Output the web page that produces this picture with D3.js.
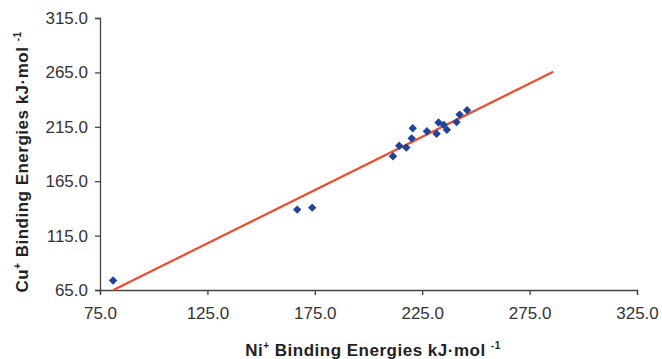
<!DOCTYPE html>
<html>
<head>
<meta charset="utf-8">
<script src="https://cdn.jsdelivr.net/npm/d3@7"></script>
<style>
  body { margin: 0; background: #fff; }
  svg { display: block; font-family: "Liberation Sans", Arial, sans-serif; }
</style>
</head>
<body>
<script>
// chart size and plot margins
const width = 662
const height = 359
const margin = { top: 18, left: 100, right: 25, bottom: 69 }

// data: Ni+ vs Cu+ binding energies (kJ/mol)
const niValues = [81.1, 166.8, 173.8, 211.4, 214.3, 217.6, 220.1, 220.6, 227.2, 231.7, 232.6, 235.0, 236.5, 241.0, 242.4, 245.9]
const cuValues = [73.7, 138.9, 140.7, 187.9, 197.6, 195.9, 204.4, 213.6, 210.9, 208.6, 218.9, 216.8, 212.2, 219.3, 226.2, 230.3]

// trend line end points
const fitX = [81.2, 286.0]
const fitY = [65.0, 265.5]

const xTicks = [75, 125, 175, 225, 275, 325]
const yTicks = [65, 115, 165, 215, 265, 315]

const svg = d3.select("body").append("svg")
  .attr("width", width)
  .attr("height", height)

const x = d3.scaleLinear([75, 325], [margin.left, width - margin.right])
const y = d3.scaleLinear([65, 315], [height - margin.bottom, margin.top])

// axes
svg.append("g")
  .attr("transform", `translate(0,${height - margin.bottom})`)
  .call(d3.axisBottom(x).tickValues(xTicks).tickFormat(d3.format(".1f")).tickSizeOuter(0).tickSize(5).tickPadding(12))

svg.append("g")
  .attr("transform", `translate(${margin.left},0)`)
  .call(d3.axisLeft(y).tickValues(yTicks).tickFormat(d3.format(".1f")).tickSizeOuter(0).tickSize(5).tickPadding(7))

svg.selectAll(".domain, .tick line").attr("stroke", "#444").attr("stroke-width", 1.3)
svg.selectAll(".tick text")
  .attr("fill", "#333")
  .style("font-size", "17px")
  .style("font-family", "'Liberation Sans', Arial, sans-serif")

// trend line
svg.append("line")
  .attr("x1", x(fitX[0])).attr("y1", y(fitY[0]))
  .attr("x2", x(fitX[1])).attr("y2", y(fitY[1]))
  .attr("stroke", "#f04a2c")
  .attr("stroke-width", 2.2)

// diamond markers
svg.append("g")
  .attr("fill", "#1f429b")
  .selectAll("path")
  .data(niValues.map((d, i) => [d, cuValues[i]]))
  .join("path")
    .attr("transform", d => `translate(${x(d[0])},${y(d[1])})`)
    .attr("d", "M0,-4.2L4.2,0L0,4.2L-4.2,0Z")

// axis titles
function title(t, base) {
  t.attr("text-anchor", "middle")
    .attr("font-weight", "bold")
    .attr("font-size", "17px")
    .attr("letter-spacing", "0.5px")
    .attr("fill", "#222")
  t.append("tspan").text(base)
  t.append("tspan").attr("font-size", "10px").attr("dy", -7).text("+")
  t.append("tspan").attr("dy", 7).text(" Binding Energies kJ·mol ")
  t.append("tspan").attr("font-size", "10px").attr("dy", -7).text("-1")
}

title(svg.append("text")
  .attr("x", 373)
  .attr("y", 356), "Ni")

title(svg.append("text")
  .attr("transform", `translate(28,162) rotate(-90)`), "Cu")
</script>
</body>
</html>
